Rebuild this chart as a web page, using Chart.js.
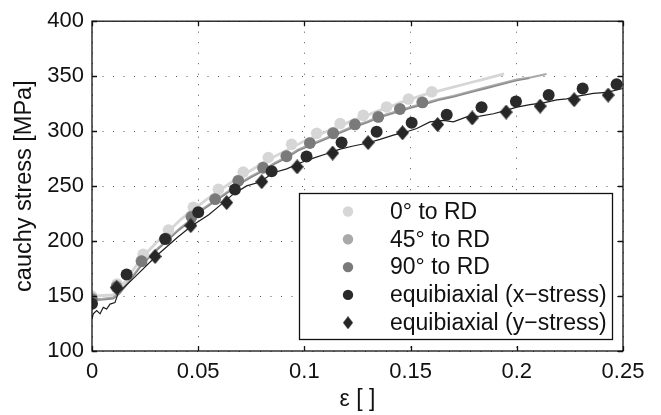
<!DOCTYPE html>
<html>
<head>
<meta charset="utf-8">
<script src="https://cdn.jsdelivr.net/npm/chart.js@4/dist/chart.umd.min.js"></script>
<style>
html,body{margin:0;padding:0;background:#fff;}
#wrap{width:661px;height:415px;}
</style>
</head>
<body>
<div id="wrap"><canvas id="c" width="661" height="415"></canvas></div>
<script>
// ---------- data ----------
const xTickValues = [0, 0.05, 0.1, 0.15, 0.2, 0.25];
const xTickLabels = ['0', '0.05', '0.1', '0.15', '0.2', '0.25'];
const yTickValues = [100, 150, 200, 250, 300, 350, 400];
const yTickLabels = ['100', '150', '200', '250', '300', '350', '400'];

const seriesLabels = ['0\u00b0 to RD', '45\u00b0 to RD', '90\u00b0 to RD', 'equibiaxial (x\u2212stress)', 'equibiaxial (y\u2212stress)'];

// marker series
const mk0Strain = [0, 0.0118, 0.0241, 0.036, 0.0477, 0.0595, 0.0712, 0.083, 0.094, 0.1058, 0.1168, 0.1277, 0.1387, 0.149, 0.16];
const mk0Stress = [150, 161, 188, 210, 230.7, 247, 262.7, 276, 288, 298, 306.9, 314.3, 322, 329.2, 335.8];
const mk45Strain = [0, 0.0116, 0.0232, 0.0349, 0.0467, 0.0579, 0.0688, 0.0804, 0.0914, 0.1025, 0.1134, 0.1237, 0.1347, 0.1449, 0.1554];
const mk45Stress = [148, 159, 182, 202.5, 222.5, 238.5, 255, 267, 277.5, 289.5, 298.5, 306.5, 313.2, 320.4, 326.4];
const mk90Strain = [0, 0.0115, 0.0234, 0.035, 0.0469, 0.058, 0.0689, 0.0806, 0.0916, 0.1026, 0.1136, 0.1238, 0.1348, 0.145, 0.1556];
const mk90Stress = [147, 158, 181.5, 202, 221.8, 238, 254.7, 266.6, 277, 289, 298, 306, 312.8, 320, 326];
const mkXStrain = [0, 0.0163, 0.0344, 0.05, 0.0673, 0.0846, 0.101, 0.1175, 0.134, 0.1505, 0.167, 0.1834, 0.1996, 0.215, 0.231, 0.247];
const mkXStress = [143, 169.6, 201.8, 226.3, 247, 263.6, 277, 289.6, 299.4, 307.6, 315, 321.8, 327, 332.8, 338.8, 342.7];
const mkYStrain = [0.0116, 0.0297, 0.0465, 0.0634, 0.0799, 0.0966, 0.1133, 0.13, 0.1462, 0.1627, 0.179, 0.195, 0.211, 0.227, 0.243];
const mkYStress = [157.6, 186, 214, 235, 254, 267.5, 280, 289.6, 298.5, 306, 312, 317.3, 322.7, 328.6, 332.8];

// measured curves
const line0Strain = [0, 0.005, 0.01, 0.013, 0.018, 0.024, 0.03, 0.036, 0.042, 0.048, 0.054, 0.06, 0.066, 0.072, 0.078, 0.083, 0.089, 0.094, 0.1, 0.106, 0.112, 0.117, 0.123, 0.128, 0.134, 0.139, 0.145, 0.15, 0.156, 0.162, 0.17, 0.178, 0.186, 0.194];
const line0Stress = [150, 150.5, 151, 156, 170, 186, 198, 209, 220, 229, 238, 246, 254, 261, 268, 274, 280, 285, 291, 296, 301, 305, 310, 313, 318, 321, 326, 329, 333, 336, 340, 344, 348, 352];
const line45Strain = [0, 0.005, 0.01, 0.013, 0.018, 0.023, 0.029, 0.035, 0.041, 0.047, 0.052, 0.058, 0.064, 0.069, 0.075, 0.081, 0.086, 0.092, 0.097, 0.103, 0.108, 0.114, 0.119, 0.124, 0.13, 0.135, 0.14, 0.145, 0.15, 0.156, 0.163, 0.17, 0.178, 0.186, 0.194, 0.2, 0.207, 0.214];
const line45Stress = [147, 147.5, 148.5, 153, 165, 178, 190, 200, 211, 220, 229, 237, 245, 252, 259, 265, 271, 277, 283, 288, 292, 297, 301, 305, 309, 313, 316, 319, 322, 325, 329, 332, 336, 340, 344, 347, 349, 352];
const line90Strain = [0, 0.005, 0.01, 0.013, 0.018, 0.023, 0.029, 0.035, 0.041, 0.047, 0.052, 0.058, 0.064, 0.069, 0.075, 0.081, 0.086, 0.092, 0.097, 0.103, 0.108, 0.114, 0.119, 0.124, 0.13, 0.135, 0.14, 0.145, 0.15, 0.156, 0.163, 0.17, 0.178, 0.186, 0.194, 0.2, 0.206];
const line90Stress = [146, 146.5, 147.5, 152, 164, 177, 189, 199.5, 210, 219, 228, 236, 244, 251, 258, 264, 270, 276, 282, 287, 291, 296, 300, 304, 308, 312, 315, 318, 321, 324, 328, 331, 335, 339, 343, 346, 348];
const lineEqStrain = [0, 0.0006, 0.0022, 0.0038, 0.0053, 0.0069, 0.0085, 0.0108, 0.0124, 0.02, 0.03, 0.04, 0.047, 0.055, 0.06, 0.0665, 0.0728, 0.0791, 0.0854, 0.0917, 0.0979, 0.1042, 0.1105, 0.1168, 0.123, 0.1293, 0.1356, 0.1419, 0.1482, 0.1529, 0.1591, 0.1654, 0.1701, 0.1764, 0.1827, 0.189, 0.1937, 0.2, 0.2062, 0.2125, 0.2188, 0.2235, 0.2282, 0.236, 0.2423, 0.25];
const lineEqStress = [129, 133.8, 136.7, 133.8, 139.7, 138.2, 142.7, 144, 153, 167, 186, 203, 214, 224, 232, 242.7, 250.2, 253.7, 262.1, 265.7, 271, 275.5, 279.4, 283.6, 286.5, 289, 292.5, 296.4, 299.4, 302.4, 308.4, 309.8, 308.4, 312.9, 313.7, 315.8, 318.2, 321.8, 324.1, 325.7, 328.4, 329.3, 331.7, 334.3, 335.2, 338.8];

// ---------- helpers ----------
function pts(xs, ys){ return xs.map((x,i)=>({x:x, y:ys[i]})); }

function makeDiamond(w, h, color){
  const cv = document.createElement('canvas');
  cv.width = w; cv.height = h;
  const c = cv.getContext('2d');
  c.fillStyle = color;
  c.beginPath();
  c.moveTo(w/2, 0); c.lineTo(w, h/2); c.lineTo(w/2, h); c.lineTo(0, h/2); c.closePath();
  c.fill();
  return cv;
}
const diamondBig = makeDiamond(13, 15, '#262626');
const diamondSmall = makeDiamond(10, 13, '#262626');

const C0 = '#d6d6d6', C45 = '#a9a9a9', C90 = '#7a7a7a', CX = '#2a2a2a';
const FONT = "'Liberation Sans', Arial, Helvetica, sans-serif";

function lineDs(xs, ys, color, w, order){
  return {data: pts(xs, ys), showLine: true, borderColor: color, borderWidth: w, pointRadius: 0, fill: false, order: order, tension: 0};
}
function mkDs(label, xs, ys, color, style, r, order, lg){
  return {label: label, data: pts(xs, ys), showLine: false, pointStyle: style, pointRadius: r, pointBackgroundColor: color, pointBorderColor: color, pointBorderWidth: 0, order: order, legendStyle: lg};
}

const datasets = [
  lineDs(line0Strain, line0Stress, C0, 2.8, 90),
  lineDs(line45Strain, line45Stress, C45, 2.2, 85),
  lineDs(line90Strain, line90Stress, '#8a8a8a', 1.4, 80),
  mkDs(seriesLabels[0], mk0Strain, mk0Stress, C0, 'circle', 5.8, 70, {color: C0, style: 'circle'}),
  mkDs(seriesLabels[1], mk45Strain, mk45Stress, C45, 'circle', 5.8, 65, {color: C45, style: 'circle'}),
  mkDs(seriesLabels[2], mk90Strain, mk90Stress, C90, 'circle', 5.8, 60, {color: C90, style: 'circle'}),
  lineDs(lineEqStrain, lineEqStress, '#1e1e1e', 1.2, 50),
  mkDs(seriesLabels[3], mkXStrain, mkXStress, CX, 'circle', 6, 40, {color: CX, style: 'circle'}),
  mkDs(seriesLabels[4], mkYStrain, mkYStress, '#262626', diamondBig, 7, 30, {color: '#262626', style: 'diamond'})
];

// frame, inward ticks and legend box
const decor = {
  id: 'decor',
  afterDatasetsDraw(chart){
    const {ctx, chartArea: a, scales} = chart;
    ctx.save();
    ctx.strokeStyle = '#111';
    ctx.lineWidth = 1.3;
    ctx.beginPath();
    xTickValues.forEach(v => {
      const x = Math.round(scales.x.getPixelForValue(v)) + 0.5;
      ctx.moveTo(x, a.bottom); ctx.lineTo(x, a.bottom - 5);
      ctx.moveTo(x, a.top); ctx.lineTo(x, a.top + 5);
    });
    yTickValues.forEach(v => {
      const y = Math.round(scales.y.getPixelForValue(v)) + 0.5;
      ctx.moveTo(a.left, y); ctx.lineTo(a.left + 5, y);
      ctx.moveTo(a.right, y); ctx.lineTo(a.right - 5, y);
    });
    ctx.stroke();
    ctx.strokeRect(a.left, a.top, a.right - a.left, a.bottom - a.top);

    // legend box
    const bx = 299, by = 193, bw = 313, bh = 146;
    ctx.fillStyle = '#fff';
    ctx.fillRect(bx, by, bw, bh);
    ctx.lineWidth = 1.3;
    ctx.strokeStyle = '#111';
    ctx.strokeRect(bx + 0.5, by + 0.5, bw, bh);
    const items = chart.data.datasets.filter(d => d.legendStyle);
    ctx.font = '23px ' + FONT;
    ctx.textBaseline = 'middle';
    ctx.textAlign = 'left';
    items.forEach((d, i) => {
      const cy = by + 18.5 + i * 27.8;
      const mx = 348;
      if (d.legendStyle.style === 'circle'){
        ctx.fillStyle = d.legendStyle.color;
        ctx.beginPath(); ctx.arc(mx, cy, 5.2, 0, Math.PI * 2); ctx.fill();
      } else {
        ctx.drawImage(diamondSmall, mx - 5, cy - 6.5);
      }
      ctx.fillStyle = '#111';
      ctx.fillText(d.label, 390, cy + 1);
    });
    ctx.restore();
  }
};

new Chart(document.getElementById('c'), {
  type: 'scatter',
  data: {datasets: datasets},
  plugins: [decor],
  options: {
    responsive: false,
    animation: false,
    events: [],
    layout: {padding: {left: 2, top: 16, right: 38, bottom: 0}},
    plugins: {legend: {display: false}, tooltip: {enabled: false}},
    scales: {
      x: {
        type: 'linear', min: 0, max: 0.25,
        afterBuildTicks: s => { s.ticks = xTickValues.map(v => ({value: v})); },
        afterFit: s => { s.height = 64; },
        ticks: {callback: (v) => xTickLabels[xTickValues.indexOf(v)], color: '#111', font: {family: FONT, size: 22}, padding: 8, maxRotation: 0},
        grid: {color: '#555', lineWidth: 1, borderDash: [1, 9.5], drawTicks: false},
        border: {display: false, dash: [1, 9.5]},
        title: {display: true, text: '\u03b5 [ ]', color: '#111', font: {family: FONT, size: 23}, padding: {top: 0, bottom: 2}}
      },
      y: {
        type: 'linear', min: 100, max: 400,
        afterBuildTicks: s => { s.ticks = yTickValues.map(v => ({value: v})); },
        afterFit: s => { s.width = 90; },
        ticks: {callback: (v) => yTickLabels[yTickValues.indexOf(v)], color: '#111', font: {family: FONT, size: 22}, padding: 8},
        grid: {color: '#555', lineWidth: 1, borderDash: [1, 9.5], drawTicks: false},
        border: {display: false, dash: [1, 9.5]},
        title: {display: true, text: 'cauchy stress [MPa]', color: '#111', font: {family: FONT, size: 23.5}, padding: {top: 8, bottom: 0}}
      }
    }
  }
});
</script>
</body>
</html>
